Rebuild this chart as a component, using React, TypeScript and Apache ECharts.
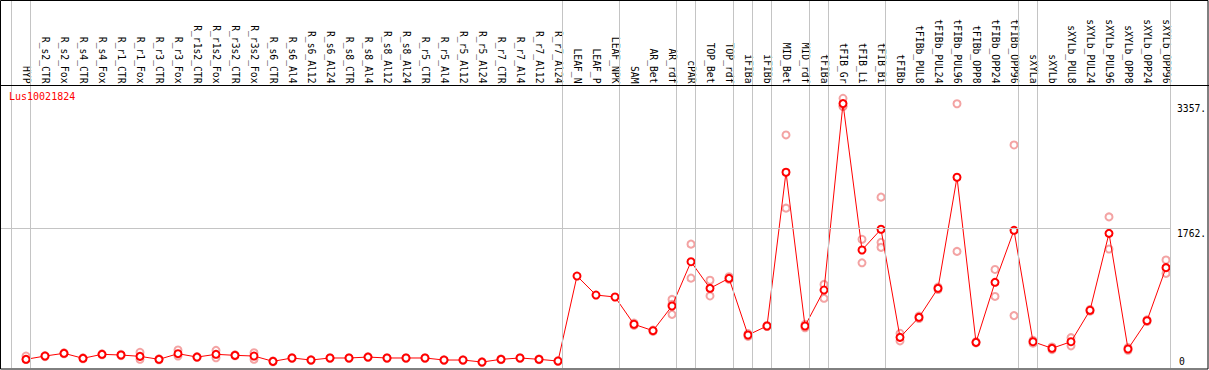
import React, { useEffect, useRef } from "react";
import * as echarts from "echarts";

const geneName = "Lus10021824";

const categories = [
  "HYP", "R_s2_CTR", "R_s2_Fox", "R_s4_CTR", "R_s4_Fox", "R_r1_CTR", "R_r1_Fox",
  "R_r3_CTR", "R_r3_Fox", "R_r1s2_CTR", "R_r1s2_Fox", "R_r3s2_CTR", "R_r3s2_Fox",
  "R_s6_CTR", "R_s6_Al4", "R_s6_Al12", "R_s6_Al24", "R_s8_CTR", "R_s8_Al4", "R_s8_Al12",
  "R_s8_Al24", "R_r5_CTR", "R_r5_Al4", "R_r5_Al12", "R_r5_Al24", "R_r7_CTR", "R_r7_Al4",
  "R_r7_Al12", "R_r7_Al24", "LEAF_N", "LEAF_P", "LEAF_NPK", "SAM", "AR_Bet", "AR_rdf",
  "cPAR", "TOP_Bet", "TOP_rdf", "iFIBa", "iFIBb", "MID_Bet", "MID_rdf", "tFIBa",
  "tFIB_Gr", "tFIB_Li", "tFIB_Bi", "tFIBb", "tFIBb_PUL8", "tFIBb_PUL24", "tFIBb_PUL96",
  "tFIBb_OPP8", "tFIBb_OPP24", "tFIBb_OPP96", "sXYLa", "sXYLb", "sXYLb_PUL8",
  "sXYLb_PUL24", "sXYLb_PUL96", "sXYLb_OPP8", "sXYLb_OPP24", "sXYLb_OPP96",
];

const meanValues = [
  87, 129, 164, 100, 151, 142, 125, 87, 159, 116, 151, 138, 129,
  61, 104, 78, 104, 104, 116, 104, 104, 104, 78, 78, 52, 87, 104, 87, 65,
  1152, 909, 884, 535, 453, 769, 1335, 995, 1123, 398, 513, 2479, 513, 973,
  3357, 1485, 1750, 368, 624, 995, 2415, 304, 1072, 1737,
  312, 228, 312, 714, 1698, 219, 581, 1259,
];

const replicateA = [
  129, 135, 170, 106, 157, 150, 177, 93, 206, 121, 202, 144, 172,
  66, 109, 83, 108, 108, 120, 108, 108, 108, 82, 82, 56, 91, 108, 91, 69,
  null, null, null, 550, 460, 853, 1560, 1098, 1143, 415, 520, 2956, 535, 1045,
  3425, 1622, 2161, 420, 640, 1010, 3355, 312, 1236, 2828,
  330, 245, 364, 725, 1908, 236, 592, 1357,
];

const replicateB = [
  84, 122, 158, 94, 145, 134, 87, 81, 129, 111, 107, 132, 87,
  56, 99, 73, 100, 100, 112, 100, 100, 100, 74, 74, 48, 83, 100, 83, 61,
  null, null, null, 520, 446, 662, 1125, 897, 1108, 380, 506, 2020, 490, 867,
  3320, 1321, 1583, 322, 608, 980, 1467, 296, 891, 646,
  294, 210, 259, 703, 1497, 202, 570, 1185,
];

const replicateC = [
  null, null, null, null, null, null, null, null, null, null, null, null, null,
  null, null, null, null, null, null, null, null, null, null, null, null, null, null, null, null,
  null, null, null, null, null, 790, null, null, null, null, null, null, null, null,
  3326, null, 1519, null, null, null, null, null, null, null,
  null, null, null, null, null, null, null, null,
];

// indices of categories that start a new group (61 = end of last group)
const groupBoundaries = [0, 1, 29, 32, 35, 36, 38, 39, 40, 42, 43, 46, 53, 54, 61];
const yTickValues = [1762, 3357];
const yZeroTick = [0];
const gridLineValue = 1762;

export default function App() {
  const ref = useRef<HTMLDivElement>(null);

  useEffect(() => {
    if (!ref.current) return;
    const chart = echarts.init(ref.current, null, { renderer: "svg" });
    const font = "DejaVu Sans Mono";

    const meanData = meanValues.map((v, i) => [i, v]);
    const repData: number[][] = [];
    [replicateA, replicateB, replicateC].forEach((arr) =>
      arr.forEach((v, i) => {
        if (v != null) repData.push([i, v as number]);
      })
    );

    const yAxisBase = {
      type: "value",
      min: -24,
      max: 4669,
      position: "right",
      axisLine: { show: false, onZero: false },
      axisTick: { show: false },
      splitLine: { show: false },
    };

    const option: any = {
      animation: false,
      backgroundColor: "#ffffff",
      title: {
        text: geneName,
        left: 9,
        top: 91,
        padding: 0,
        textStyle: { color: "#ff0000", fontSize: 10, fontWeight: "normal", fontFamily: font },
      },
      grid: { left: 1, right: 38, top: 1, bottom: 2, outerBoundsMode: "none", containLabel: false },
      xAxis: {
        type: "value",
        min: -1.316,
        max: 60.263,
        position: "top",
        offset: -84.5,
        axisLine: { show: false, onZero: false },
        axisTick: { show: false },
        splitLine: { show: false },
        axisLabel: {
          customValues: categories.map((_, i) => i),
          formatter: (v: number) => categories[Math.round(v)] ?? "",
          rotate: 90,
          margin: 2,
          fontFamily: font,
          fontSize: 9.7,
          color: "#000",
        },
      },
      yAxis: [
        {
          ...yAxisBase,
          axisLabel: {
            customValues: yTickValues,
            formatter: (v: number) => v + ".",
            verticalAlign: "top",
            margin: 6,
            fontFamily: font,
            fontSize: 9.7,
            color: "#000",
          },
        },
        {
          ...yAxisBase,
          axisLabel: {
            customValues: yZeroTick,
            formatter: (v: number) => String(v),
            verticalAlign: "bottom",
            margin: 8,
            fontFamily: font,
            fontSize: 9.7,
            color: "#000",
          },
        },
      ],
      graphic: [
        {
          type: "rect",
          silent: true,
          z: 100,
          shape: { x: 0.5, y: 0.5, width: 1207.5, height: 368.5 },
          style: { fill: "none", stroke: "#000", lineWidth: 1 },
        },
        {
          type: "line",
          silent: true,
          z: 100,
          shape: { x1: 0, y1: 85.5, x2: 1209, y2: 85.5 },
          style: { stroke: "#000", lineWidth: 1 },
        },
      ],
      series: [
        {
          name: "replicates",
          type: "scatter",
          data: repData,
          symbol: "emptyCircle",
          symbolSize: 7,
          z: 2,
          silent: true,
          itemStyle: { color: "#f08c8c", borderWidth: 1.2 },
          markLine: {
            silent: true,
            symbol: "none",
            label: { show: false },
            lineStyle: { color: "#c4c4c4", width: 1, type: "solid" },
            data: [
              ...groupBoundaries.map((k) => ({ xAxis: k - 0.76 })),
              { yAxis: gridLineValue },
            ],
          },
        },
        {
          name: "mean",
          type: "line",
          data: meanData,
          symbol: "emptyCircle",
          symbolSize: 7,
          z: 3,
          silent: true,
          lineStyle: { color: "#ff0000", width: 1 },
          itemStyle: { color: "#ff0000", borderWidth: 1.6 },
        },
      ],
    };

    chart.setOption(option);
    return () => chart.dispose();
  }, []);

  return (
    <div
      ref={ref}
      style={{ position: "absolute", left: 0, top: 0, width: 1209, height: 370, background: "#fff" }}
    />
  );
}
